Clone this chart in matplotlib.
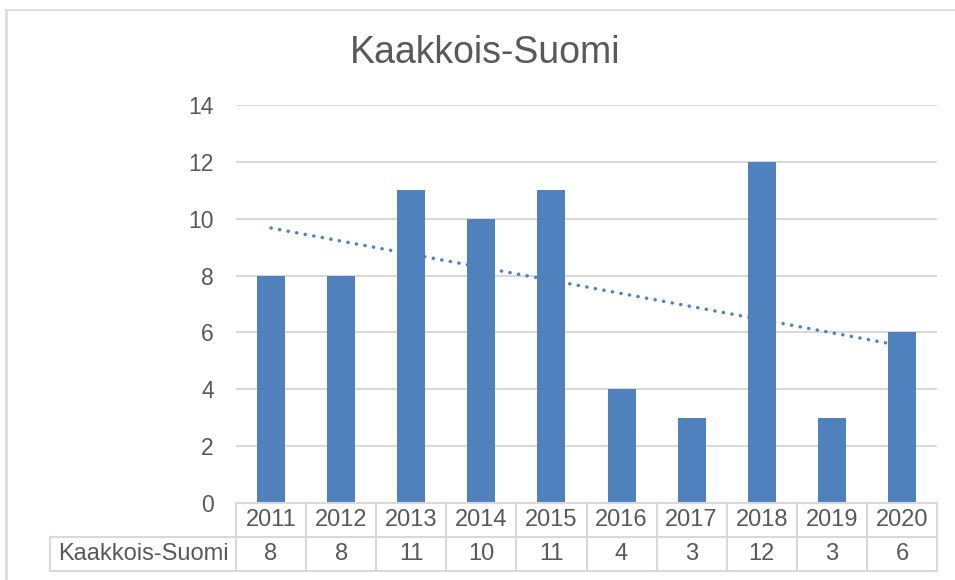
import matplotlib
matplotlib.use('Agg')
import numpy as np
import matplotlib.pyplot as plt
from matplotlib.lines import Line2D

plt.rcParams['font.family'] = ['Liberation Sans', 'DejaVu Sans']

# ── data ─────────────────────────────────────────────────────────────────────
years = ['2011', '2012', '2013', '2014', '2015', '2016', '2017', '2018', '2019', '2020']
values = [8, 8, 11, 10, 11, 4, 3, 12, 3, 6]
series_name = 'Kaakkois-Suomi'
title = 'Kaakkois-Suomi'
y_ticks = [0, 2, 4, 6, 8, 10, 12, 14]

bar_color = '#4F81BD'
text_color = '#595959'
grid_color = '#D9D9D9'

W, H = 955, 580
fig = plt.figure(figsize=(W / 100, H / 100), dpi=100)

# plot area in pixels: x 236..937, y 105..503
ax = fig.add_axes([236 / W, 1 - 503 / H, (937 - 236) / W, (503 - 105) / H])
x = np.arange(len(values))
ax.bar(x, values, width=0.4, color=bar_color, zorder=3)

# linear trendline (Excel style)
slope, intercept = np.polyfit(x, values, 1)
ax.plot(x, slope * x + intercept, color=bar_color, lw=2.5,
        linestyle=(0, (0.05, 2.45)), dash_capstyle='round', zorder=4)

ax.set_xlim(-0.5, len(values) - 0.5)
ax.set_ylim(0, 14)
ax.set_yticks(y_ticks)
ax.set_xticks([])
ax.tick_params(axis='y', length=0, pad=16, labelsize=16.5, labelcolor=text_color)
ax.grid(axis='y', color=grid_color, lw=1.5, zorder=0)
for s in ax.spines.values():
    s.set_visible(False)

# ── data table under the plot ───────────────────────────────────────────────
row_h = 34 / (503 - 105)        # row height in axes units
n = len(values)
tr = ax.transAxes
col_w = 1 / n
lbl_left = (50 - 236) / (937 - 236)
line_kw = dict(color=grid_color, lw=1.5, transform=tr, clip_on=False, zorder=5)

# horizontal lines
ax.add_line(Line2D([0, 1], [0, 0], **line_kw))
ax.add_line(Line2D([lbl_left, 1], [-row_h, -row_h], **line_kw))
ax.add_line(Line2D([lbl_left, 1], [-2 * row_h, -2 * row_h], **line_kw))
# vertical lines
for i in range(n + 1):
    ax.add_line(Line2D([i * col_w, i * col_w], [0, -2 * row_h], **line_kw))
ax.add_line(Line2D([lbl_left, lbl_left], [-row_h, -2 * row_h], **line_kw))

for i, (yr, v) in enumerate(zip(years, values)):
    cx = (i + 0.5) * col_w
    ax.text(cx, -0.5 * row_h, yr, transform=tr, ha='center', va='center',
            fontsize=17, color=text_color)
    ax.text(cx, -1.5 * row_h, str(v), transform=tr, ha='center', va='center',
            fontsize=17, color=text_color)
ax.text((lbl_left + 0) / 2, -1.5 * row_h, series_name, transform=tr,
        ha='center', va='center', fontsize=17, color=text_color)

# title
fig.text(485 / W, 1 - 53 / H, title, ha='center', va='center',
         fontsize=27, color=text_color)

# chart area frame (left and top edges)
fig.add_artist(Line2D([6 / W, 6 / W], [0, 1 - 10 / H], color=grid_color,
                      lw=1.8, transform=fig.transFigure))
fig.add_artist(Line2D([6 / W, 1], [1 - 10 / H, 1 - 10 / H], color=grid_color,
                      lw=1.2, transform=fig.transFigure))

fig.savefig('out.png', dpi=100, facecolor='white')
